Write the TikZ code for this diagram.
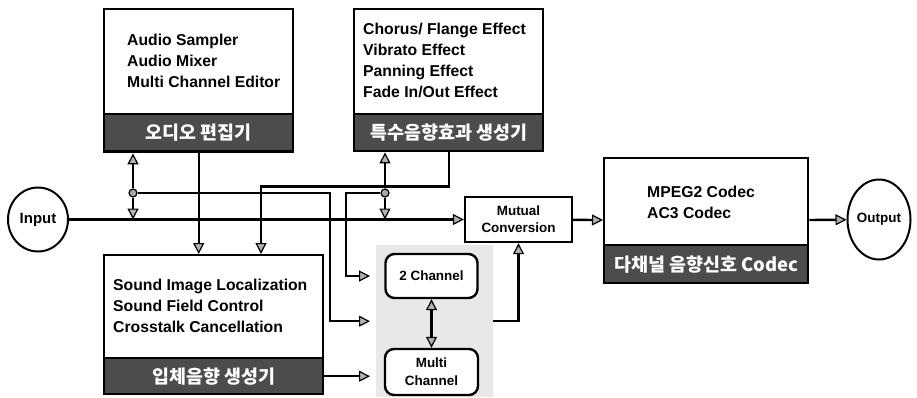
\documentclass[tikz,border=0pt]{standalone}
\usepackage{fontspec}
\setmainfont{Liberation Sans}
\newfontfamily\kor{Noto Sans CJK KR}
\usetikzlibrary{arrows.meta,shapes.geometric}

\tikzset{
  gtip/.tip={Triangle[length=11bp,width=11bp,fill=black!30,line width=1.2bp]},
  blk/.style={draw,line width=2.4bp,fill=white,inner sep=0pt,anchor=north west},
  bandbox/.style={draw,line width=2.4bp,fill=black!70,text=white,inner sep=0pt,anchor=north west,font=\kor\bfseries\fontsize{18.5}{18.5}\selectfont},
  lst/.style={align=left,anchor=west,inner sep=0pt,font=\bfseries\fontsize{15.8}{21}\selectfont},
  rbox/.style={draw,line width=2.4bp,fill=white,rounded corners=9bp,inner sep=0pt,align=center,font=\bfseries\fontsize{13.5}{18}\selectfont},
  term/.style={draw,ellipse,line width=2bp,inner sep=0pt,font=\bfseries\fontsize{15}{15}\selectfont},
  jn/.style={circle,draw,line width=1.2bp,fill=black!35,inner sep=0pt,minimum size=8bp},
  sig/.style={line width=2.4bp,-gtip},
}

\begin{document}
\begin{tikzpicture}[x=1bp,y=-1bp]
\useasboundingbox (0,0) rectangle (917,397);

% grouping background
\node[fill=black!9,inner sep=0pt,anchor=north west,minimum width=117bp,minimum height=152bp] (grp) at (376,245) {};

% editor
\node[blk,minimum width=189bp,minimum height=143bp] (editor) at (103,8) {};
\node[bandbox,minimum width=189bp,minimum height=37bp] (editorband) at (103,113) {오디오 편집기};
\node[lst] at (127,61) {Audio Sampler\\Audio Mixer\\Multi Channel Editor};

% effects
\node[blk,minimum width=189bp,minimum height=142bp] (effect) at (353,8) {};
\node[bandbox,minimum width=189bp,minimum height=37bp] (effectband) at (353,113) {특수음향효과 생성기};
\node[lst] at (363,60.5) {Chorus/ Flange Effect\\Vibrato Effect\\Panning Effect\\Fade In/Out Effect};

% spatial sound
\node[blk,minimum width=219bp,minimum height=139bp] (spatial) at (103,254) {};
\node[bandbox,minimum width=219bp,minimum height=36bp] (spatialband) at (103,357) {입체음향 생성기};
\node[lst] at (113,306) {Sound Image Localization\\Sound Field Control\\Crosstalk Cancellation};

% codec
\node[blk,minimum width=204bp,minimum height=125bp] (codec) at (603,157) {};
\node[bandbox,minimum width=204bp,minimum height=38bp] (codecband) at (603,244) {다채널 음향신호 Codec};
\node[lst] at (647,202) {MPEG2 Codec\\AC3 Codec};

% small blocks
\node[blk,anchor=center,minimum width=107bp,minimum height=45bp,align=center,font=\bfseries\fontsize{13.5}{17}\selectfont] (conv) at (518.5,219.5) {Mutual\\Conversion};
\node[rbox,minimum width=92bp,minimum height=44bp] (twoch) at (431.5,276) {2 Channel};
\node[rbox,minimum width=93bp,minimum height=46bp] (multich) at (431.5,372) {Multi\\Channel};

% terminals
\node[term,minimum width=60bp,minimum height=64bp] (input) at (38,219.5) {Input};
\node[term,minimum width=63bp,minimum height=80bp,font=\bfseries\fontsize{13.5}{13.5}\selectfont] (output) at (879,219.5) {Output};

% junctions
\node[jn] (dotA) at (133,193) {};
\node[jn] (dotB) at (385,193) {};

% signal paths
\draw[sig] (input) -- (conv);
\draw[sig] (dotA) -- (editor.south -| dotA);
\draw[sig] (dotA) -- (input -| dotA);
\draw[sig] (dotB) -- (effect.south -| dotB);
\draw[sig] (dotB) -- (input -| dotB);
\draw[sig,shorten >=6bp] (dotA) -- ++(197,0) |- (grp.west);
\draw[sig,shorten >=6bp] (dotB) -- ++(-39,0) |- (grp.west |- twoch);
\draw[sig] (editorband.south) -- (spatial.north -| editorband.south);
\coordinate (sIn) at (261,254);
\draw[sig] (effectband.south) -- ++(0,34) -| (sIn);
\draw[sig,shorten >=6bp] (spatialband) -- (grp.west |- spatialband);
\draw[line width=2.4bp,gtip-gtip] (twoch) -- (multich);
\draw[sig] (grp.east) -| (conv.south);
\draw[sig] (conv) -- (codec);
\draw[sig] (codec) -- (output);
\end{tikzpicture}
\end{document}
